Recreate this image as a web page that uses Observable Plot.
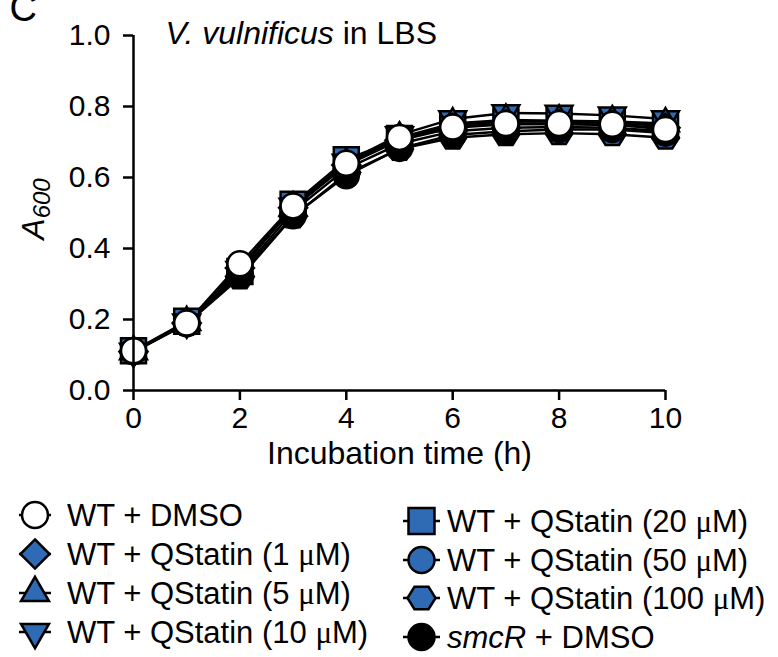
<!DOCTYPE html>
<html><head><meta charset="utf-8">
<script src="https://cdn.jsdelivr.net/npm/d3@7"></script>
<script src="https://cdn.jsdelivr.net/npm/@observablehq/plot@0.6"></script>
<style>
body{margin:0;background:#fff;}
#wrap{position:relative;width:778px;height:657px;overflow:hidden;font-family:"Liberation Sans",Arial,sans-serif;color:#000;background:#fff;}
#wrap > svg{position:absolute;left:0;top:0;}
.lg{position:absolute;overflow:visible;}
.lt{position:absolute;font-size:31px;line-height:1;white-space:nowrap;transform:translateY(-50%);}
.mu{font-family:"Liberation Serif","Times New Roman",serif;}
</style></head><body><div id="wrap"></div>
<script>
// ---- data ----
const times = [0, 1, 2, 3, 4, 5, 6, 7, 8, 9, 10];
const xTicks = [0, 2, 4, 6, 8, 10];
const yTicks = [0, 0.2, 0.4, 0.6, 0.8, 1.0];
const seriesLabels = ["WT + DMSO", "WT + QStatin (1 μM)", "WT + QStatin (5 μM)", "WT + QStatin (10 μM)",
  "WT + QStatin (20 μM)", "WT + QStatin (50 μM)", "WT + QStatin (100 μM)", "smcR + DMSO"];
const wtDMSO   = [0.112, 0.190, 0.357, 0.520, 0.640, 0.713, 0.742, 0.752, 0.752, 0.750, 0.735];
const qs1      = [0.110, 0.190, 0.345, 0.515, 0.635, 0.705, 0.740, 0.750, 0.750, 0.748, 0.740];
const qs5      = [0.110, 0.192, 0.345, 0.515, 0.638, 0.712, 0.752, 0.762, 0.760, 0.758, 0.752];
const qs10     = [0.110, 0.192, 0.340, 0.518, 0.642, 0.720, 0.765, 0.782, 0.780, 0.775, 0.765];
const qs20     = [0.112, 0.195, 0.335, 0.525, 0.650, 0.710, 0.748, 0.758, 0.758, 0.755, 0.745];
const qs50     = [0.110, 0.190, 0.330, 0.505, 0.625, 0.695, 0.730, 0.740, 0.742, 0.740, 0.730];
const qs100    = [0.108, 0.188, 0.318, 0.490, 0.610, 0.680, 0.712, 0.722, 0.725, 0.722, 0.712];
const smcR     = [0.110, 0.188, 0.325, 0.492, 0.605, 0.682, 0.720, 0.730, 0.735, 0.735, 0.725];
const seriesValues = [wtDMSO, qs1, qs5, qs10, qs20, qs50, qs100, smcR];

// ---- styles ----
const BLUE = "#2f6bb5";
const circ = {draw(c, s){const r = Math.sqrt(s/Math.PI); c.moveTo(r, 0); c.arc(0, 0, r, 0, 2*Math.PI); c.closePath();}};
const square = {draw(c, s){const r = Math.sqrt(s/Math.PI); c.moveTo(-r,-r); c.lineTo(r,-r); c.lineTo(r,r); c.lineTo(-r,r); c.closePath();}};
const diamond = {draw(c, s){const r = Math.sqrt(s/Math.PI)*1.12; c.moveTo(0,-r); c.lineTo(r,0); c.lineTo(0,r); c.lineTo(-r,0); c.closePath();}};
const triUp = {draw(c, s){const r = Math.sqrt(s/Math.PI); const a = r*2.15, h = a*Math.sqrt(3)/2;
  c.moveTo(0,-2*h/3); c.lineTo(a/2,h/3); c.lineTo(-a/2,h/3); c.closePath();}};
const triDown = {draw(c, s){const r = Math.sqrt(s/Math.PI); const a = r*2.15, h = a*Math.sqrt(3)/2;
  c.moveTo(-a/2,-h/3); c.lineTo(a/2,-h/3); c.lineTo(0,2*h/3); c.closePath();}};
const hex = {draw(c, s){const r = Math.sqrt(s/Math.PI)*1.08;
  for (let i = 0; i < 6; i++){const a = i*Math.PI/3; const x = r*Math.cos(a), y = r*Math.sin(a)*0.92; i ? c.lineTo(x,y) : c.moveTo(x,y);} c.closePath();}};
const symbols = [circ, diamond, triUp, triDown, square, circ, hex, circ];
const fills = ["white", BLUE, BLUE, BLUE, BLUE, BLUE, BLUE, "black"];
const drawOrder = [6, 5, 4, 3, 2, 1, 7, 0];

const rows = [];
seriesValues.forEach((vals, si) => vals.forEach((v, i) => rows.push({series: seriesLabels[si], si, t: times[i], a: v})));

const FONT = "Liberation Sans, Arial, sans-serif";
const marks = [
  Plot.line(rows, {x: "t", y: "a", z: "series", stroke: "black", strokeWidth: 2.5}),
  ...drawOrder.map(si => Plot.dot(rows.filter(d => d.si === si), {x: "t", y: "a", r: 12.5, symbol: symbols[si], fill: fills[si], stroke: "black", strokeWidth: 2.5})),
  Plot.ruleY([0], {stroke: "black", strokeWidth: 2.5}),
  Plot.ruleX([0], {stroke: "black", strokeWidth: 2.5}),
  Plot.axisX({ticks: xTicks, tickSize: 10, tickPadding: 6, fontSize: 30, strokeWidth: 2.5, label: null, tickFormat: d => String(d)}),
  Plot.axisY({ticks: yTicks, tickSize: 10, tickPadding: 13, fontSize: 30, strokeWidth: 2.5, label: null, tickFormat: d3.format(".1f")}),
  Plot.text(["Incubation time (h)"], {frameAnchor: "bottom", dy: 73, lineAnchor: "bottom", fontSize: 32}),
  Plot.text(["A600"], {frameAnchor: "left", dx: -90, dy: -4, rotate: -90, lineAnchor: "bottom", textAnchor: "middle", fontSize: 32}),
  Plot.text(["V. vulnificus in LBS"], {frameAnchor: "top-left", dx: 32, dy: 8, lineAnchor: "bottom", textAnchor: "start", fontSize: 32}),
  Plot.text(["C"], {frameAnchor: "top-left", dx: -124, dy: -15, lineAnchor: "bottom", textAnchor: "start", fontSize: 38})
];

const chart = Plot.plot({
  width: 778, height: 480,
  marginLeft: 133, marginRight: 113, marginTop: 35, marginBottom: 90,
  x: {domain: [0, 10]},
  y: {domain: [0, 1]},
  style: {fontFamily: FONT, color: "black", background: "white", overflow: "visible"},
  marks
});

// rich text (italics / subscript)
d3.select(chart).selectAll("text").each(function(){
  const t = this.textContent;
  if (t === "A600") {
    this.textContent = "";
    d3.select(this).append("tspan").attr("font-style", "italic").text("A");
    d3.select(this).append("tspan").attr("font-style", "italic").attr("font-size", 24).attr("dy", "0.28em").text("600");
  } else if (t === "V. vulnificus in LBS") {
    this.textContent = "";
    d3.select(this).append("tspan").attr("font-style", "italic").text("V. vulnificus");
    d3.select(this).append("tspan").text(" in LBS");
  }
});

const wrap = document.getElementById("wrap");
wrap.appendChild(chart);

// ---- legend ----
const legendPos = [
  {x0: 19, x1: 51, tx: 67, y: 515}, {x0: 19, x1: 51, tx: 67, y: 554}, {x0: 19, x1: 51, tx: 67, y: 593}, {x0: 19, x1: 51, tx: 67, y: 632},
  {x0: 403, x1: 440, tx: 447, y: 521}, {x0: 403, x1: 440, tx: 447, y: 560}, {x0: 403, x1: 440, tx: 447, y: 598}, {x0: 403, x1: 440, tx: 447, y: 637}
];
seriesLabels.forEach((lab, si) => {
  const p = legendPos[si];
  const w = p.x1 - p.x0;
  const svg = d3.create("svg").attr("class", "lg").attr("width", w).attr("height", 40)
    .style("left", p.x0 + "px").style("top", (p.y - 20) + "px");
  svg.append("line").attr("x1", 0).attr("x2", w).attr("y1", 20).attr("y2", 20).attr("stroke", "black").attr("stroke-width", 2.5);
  const path = d3.path(); symbols[si].draw(path, Math.PI*13*13);
  svg.append("path").attr("d", path.toString()).attr("transform", `translate(${w/2},20)`)
    .attr("fill", fills[si]).attr("stroke", "black").attr("stroke-width", 2.5);
  wrap.appendChild(svg.node());
  const div = document.createElement("div");
  div.className = "lt";
  div.style.left = p.tx + "px"; div.style.top = p.y + "px";
  if (lab.startsWith("smcR")) {
    div.innerHTML = "<i>smcR</i> + DMSO";
  } else {
    const parts = lab.split("μ");
    div.textContent = parts[0];
    if (parts.length > 1) {
      const mu = document.createElement("span"); mu.className = "mu"; mu.textContent = "μ";
      div.appendChild(mu);
      div.appendChild(document.createTextNode(parts[1]));
    }
  }
  wrap.appendChild(div);
});
</script></body></html>
